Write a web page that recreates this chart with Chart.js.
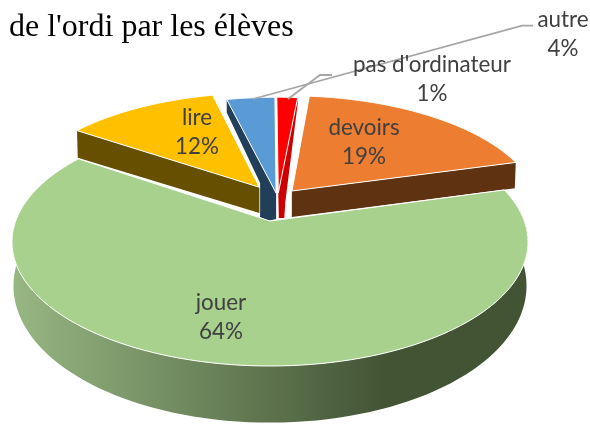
<!DOCTYPE html>
<html><head><meta charset="utf-8">
<style>html,body{margin:0;padding:0;background:#fff}canvas{display:block}</style>
<script src="https://cdn.jsdelivr.net/npm/chart.js@4"></script>
</head><body><canvas id="c" width="590" height="424"></canvas>
<script>
const categories = ["devoirs", "jouer", "lire", "autre", "pas d'ordinateur"];
const shares = [19.1, 63.9, 11.75, 3.67, 1.58];
const percentLabels = ["19%", "64%", "12%", "4%", "1%"];
const topColors = ["#ED7D31", "#A9D18E", "#FFC000", "#5B9BD5", "#FF0000"];
const wallColors = ["#5F3212", "#435435", "#665000", "#223F59", "#CC0000"];
const titleText = "de l'ordi par les élèves";

/* perspective of the disc plane: top face and bottom face */
const XC = 270, YT = 221, A = 254.3, B = 120.5, K = 0.169;
const YB = 248.3, B2 = 129, K2 = 0.26;
const top3d = (u, v) => { const w = 1 + K * v; return [XC + A * u / w, YT - B * v / w]; };
const bot3d = (u, v) => {
  const w2 = 1 + K2 * v;
  const sx = v < 0 ? 247 / (1 + 0.27 * v) : (A - 1) / (1 + K * v);
  return [XC + sx * u, YB - B2 * v / w2];
};
/* explosion of each slice in the disc plane */
const shifts = [[0.09, 0.26], [0, 0], [-0.044, 0.294], [0.025, 0.2415], [0.034, 0.2415]];
const drawOrder = [3, 4, 2, 0, 1];
/* label anchors */
const labelAnchors = [[364, 128], [221, 303], [197, 118], [563, 20], [432, 65]];
const leaders = { 3: [[253, 99], [522, 25.7], [533, 25.7]], 4: [[288, 99], [320, 75], [332, 75]] };

function pts(map, arc, i, from, to) {
  const [su, sv] = shifts[i], out = [], n = 120;
  for (let k = 0; k <= n; k++) {
    const a = from + (to - from) * k / n;
    out.push(map(su + Math.cos(a), sv - Math.sin(a)));
  }
  return out;
}
function poly(ctx, p, fill, stroke, lw) {
  ctx.beginPath();
  p.forEach((q, k) => k ? ctx.lineTo(q[0], q[1]) : ctx.moveTo(q[0], q[1]));
  ctx.closePath();
  ctx.fillStyle = fill; ctx.fill();
  if (stroke) { ctx.strokeStyle = stroke; ctx.lineWidth = lw || 1; ctx.lineJoin = 'round'; ctx.stroke(); }
}
const pie3d = {
  id: 'pie3d',
  beforeDatasetDraw(chart) {
    const ctx = chart.ctx, arcs = chart.getDatasetMeta(0).data;
    ctx.save();
    drawOrder.forEach(i => {
      const arc = arcs[i], s = arc.startAngle, e = arc.endAngle;
      const tipT = top3d(shifts[i][0], shifts[i][1]), tipB = bot3d(shifts[i][0], shifts[i][1]);
      const outerT = pts(top3d, arc, i, s, e), outerB = pts(bot3d, arc, i, s, e);
      if (i === 1) {
        const g = ctx.createLinearGradient(12, 0, 385, 0);
        g.addColorStop(0, '#97B783'); g.addColorStop(1, wallColors[1]);
        poly(ctx, outerT.concat(outerB.slice().reverse()), g);
      } else if (i === 3) {
        const c = outerT[0];
        poly(ctx, [c, [c[0], c[1] + 13], [tipT[0] - 16, tipT[1] - 10], [tipT[0] - 16, tipT[1] + 24],
          [tipT[0] - 8, tipT[1] + 28], [tipT[0], tipT[1] + 26], tipT], wallColors[3]);
      } else if (i === 4) {
        const c = outerT[outerT.length - 1];
        poly(ctx, [c, tipT, [tipT[0] + 0.5, tipT[1] + 25], [tipT[0] + 6, tipT[1] + 25],
          [tipT[0] + 7, tipT[1] + 9], [c[0], c[1] + 6]], wallColors[4]);
      } else if (i === 0) {
        const a = outerT[outerT.length - 1], b = outerB[outerB.length - 1];
        poly(ctx, [tipT, a, b, tipB], wallColors[0]);
      } else if (i === 2) {
        const a = outerT[0], b = outerB[0];
        poly(ctx, [tipT, a, b, tipB], wallColors[2]);
      }
      poly(ctx, [tipT].concat(outerT), topColors[i], '#FFFFFF', 1);
    });
    ctx.restore();
    return false;
  },
  afterDatasetsDraw(chart) {
    const ctx = chart.ctx;
    ctx.save();
    ctx.strokeStyle = '#A6A6A6'; ctx.lineWidth = 1.8;
    Object.values(leaders).forEach(l => {
      ctx.beginPath();
      l.forEach((q, k) => k ? ctx.lineTo(q[0], q[1]) : ctx.moveTo(q[0], q[1]));
      ctx.stroke();
    });
    ctx.fillStyle = '#404040';
    ctx.font = '22.4px Lato';
    ctx.textAlign = 'center'; ctx.textBaseline = 'middle';
    categories.forEach((name, i) => {
      const [x, y] = labelAnchors[i];
      ctx.fillText(name, x, y);
      ctx.fillText(percentLabels[i], x, y + 29);
    });
    ctx.restore();
  }
};
new Chart(document.getElementById('c'), {
  type: 'pie',
  data: { labels: categories, datasets: [{ data: shares, backgroundColor: topColors, borderColor: '#FFFFFF', borderWidth: 1 }] },
  options: {
    responsive: false, animation: false, rotation: 5.6,
    layout: { padding: { left: 9, top: 4 } },
    plugins: {
      legend: { display: false }, tooltip: { enabled: false },
      title: { display: true, text: titleText, align: 'start', color: '#000000',
        font: { family: 'Liberation Serif', size: 32, weight: 'normal' }, padding: { top: 4, bottom: 4 } }
    }
  },
  plugins: [pie3d]
});
</script></body></html>
